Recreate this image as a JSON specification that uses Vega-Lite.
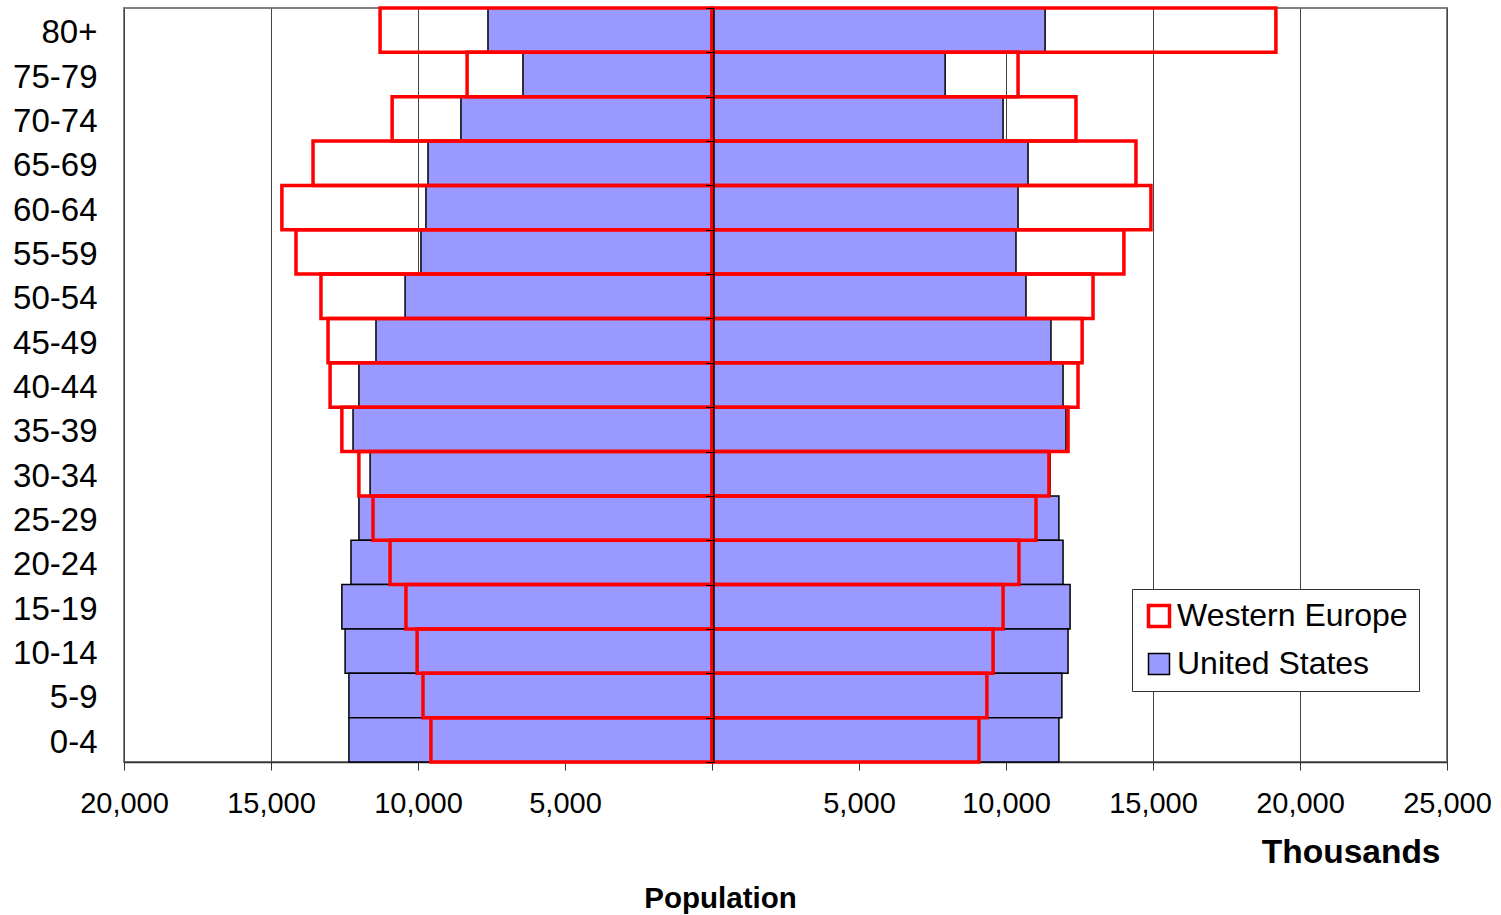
{
  "$schema": "https://vega.github.io/schema/vega-lite/v6.json",
  "autosize": "none",
  "width": 1323,
  "height": 754,
  "padding": {"left": 124, "top": 8, "right": 54, "bottom": 153},
  "background": "white",
  "config": {
    "view": {"stroke": "#808080", "strokeWidth": 2},
    "font": "Liberation Sans"
  },
  "title": {
    "text": "Population",
    "orient": "bottom",
    "anchor": "middle",
    "font": "Liberation Sans",
    "fontSize": 29.5,
    "fontWeight": "bold",
    "color": "#000",
    "dx": -65,
    "offset": 16
  },
  "data": {
    "values": [
      {"age": "80+", "region": "United States", "value": -7620},
      {"age": "80+", "region": "United States", "value": 11330},
      {"age": "75-79", "region": "United States", "value": -6430},
      {"age": "75-79", "region": "United States", "value": 7930},
      {"age": "70-74", "region": "United States", "value": -8540},
      {"age": "70-74", "region": "United States", "value": 9900},
      {"age": "65-69", "region": "United States", "value": -9660},
      {"age": "65-69", "region": "United States", "value": 10750},
      {"age": "60-64", "region": "United States", "value": -9730},
      {"age": "60-64", "region": "United States", "value": 10410},
      {"age": "55-59", "region": "United States", "value": -9900},
      {"age": "55-59", "region": "United States", "value": 10340},
      {"age": "50-54", "region": "United States", "value": -10440},
      {"age": "50-54", "region": "United States", "value": 10680},
      {"age": "45-49", "region": "United States", "value": -11430},
      {"age": "45-49", "region": "United States", "value": 11530},
      {"age": "40-44", "region": "United States", "value": -12010},
      {"age": "40-44", "region": "United States", "value": 11940},
      {"age": "35-39", "region": "United States", "value": -12210},
      {"age": "35-39", "region": "United States", "value": 12040},
      {"age": "30-34", "region": "United States", "value": -11630},
      {"age": "30-34", "region": "United States", "value": 11500},
      {"age": "25-29", "region": "United States", "value": -12010},
      {"age": "25-29", "region": "United States", "value": 11800},
      {"age": "20-24", "region": "United States", "value": -12280},
      {"age": "20-24", "region": "United States", "value": 11940},
      {"age": "15-19", "region": "United States", "value": -12590},
      {"age": "15-19", "region": "United States", "value": 12180},
      {"age": "10-14", "region": "United States", "value": -12480},
      {"age": "10-14", "region": "United States", "value": 12110},
      {"age": "5-9", "region": "United States", "value": -12350},
      {"age": "5-9", "region": "United States", "value": 11900},
      {"age": "0-4", "region": "United States", "value": -12350},
      {"age": "0-4", "region": "United States", "value": 11800},
      {"age": "80+", "region": "Western Europe", "value": -11290},
      {"age": "80+", "region": "Western Europe", "value": 19180},
      {"age": "75-79", "region": "Western Europe", "value": -8330},
      {"age": "75-79", "region": "Western Europe", "value": 10410},
      {"age": "70-74", "region": "Western Europe", "value": -10880},
      {"age": "70-74", "region": "Western Europe", "value": 12380},
      {"age": "65-69", "region": "Western Europe", "value": -13570},
      {"age": "65-69", "region": "Western Europe", "value": 14420},
      {"age": "60-64", "region": "Western Europe", "value": -14630},
      {"age": "60-64", "region": "Western Europe", "value": 14930},
      {"age": "55-59", "region": "Western Europe", "value": -14150},
      {"age": "55-59", "region": "Western Europe", "value": 14010},
      {"age": "50-54", "region": "Western Europe", "value": -13300},
      {"age": "50-54", "region": "Western Europe", "value": 12960},
      {"age": "45-49", "region": "Western Europe", "value": -13060},
      {"age": "45-49", "region": "Western Europe", "value": 12590},
      {"age": "40-44", "region": "Western Europe", "value": -12990},
      {"age": "40-44", "region": "Western Europe", "value": 12450},
      {"age": "35-39", "region": "Western Europe", "value": -12590},
      {"age": "35-39", "region": "Western Europe", "value": 12110},
      {"age": "30-34", "region": "Western Europe", "value": -12010},
      {"age": "30-34", "region": "Western Europe", "value": 11460},
      {"age": "25-29", "region": "Western Europe", "value": -11530},
      {"age": "25-29", "region": "Western Europe", "value": 11020},
      {"age": "20-24", "region": "Western Europe", "value": -10950},
      {"age": "20-24", "region": "Western Europe", "value": 10440},
      {"age": "15-19", "region": "Western Europe", "value": -10410},
      {"age": "15-19", "region": "Western Europe", "value": 9900},
      {"age": "10-14", "region": "Western Europe", "value": -10030},
      {"age": "10-14", "region": "Western Europe", "value": 9560},
      {"age": "5-9", "region": "Western Europe", "value": -9830},
      {"age": "5-9", "region": "Western Europe", "value": 9350},
      {"age": "0-4", "region": "Western Europe", "value": -9560},
      {"age": "0-4", "region": "Western Europe", "value": 9080}
    ]
  },
  "layer": [
    {
      "mark": {"type": "bar"},
      "encoding": {
        "y": {
          "field": "age",
          "type": "nominal",
          "sort": ["80+", "75-79", "70-74", "65-69", "60-64", "55-59", "50-54", "45-49", "40-44", "35-39", "30-34", "25-29", "20-24", "15-19", "10-14", "5-9", "0-4"],
          "scale": {"paddingInner": 0, "paddingOuter": 0},
          "axis": {
            "title": null,
            "domain": false,
            "ticks": false,
            "labelPadding": 27,
            "labelOffset": 3,
            "labelFont": "Liberation Sans",
            "labelFontSize": 33,
            "labelColor": "#000"
          }
        },
        "x": {
          "field": "value",
          "type": "quantitative",
          "stack": null,
          "scale": {"domain": [-20000, 25000], "nice": false, "zero": false},
          "axis": {
            "values": [-20000, -15000, -10000, -5000, 0, 5000, 10000, 15000, 20000, 25000],
            "labelExpr": "datum.value == 0 ? '' : format(abs(datum.value), ',')",
            "grid": true,
            "gridColor": "#444",
            "gridWidth": 1,
            "domainColor": "#333",
            "domainWidth": 1.5,
            "ticks": true,
            "tickColor": "#333",
            "tickSize": 8,
            "tickWidth": 1,
            "labelPadding": 19,
            "labelFont": "Liberation Sans",
            "labelFontSize": 29,
            "labelColor": "#000",
            "labelFlush": false,
            "title": "Thousands",
            "titleFont": "Liberation Sans",
            "titleFontSize": 33.5,
            "titleFontWeight": "bold",
            "titleColor": "#000",
            "titleAnchor": "end",
            "titleAlign": "right",
            "titleBaseline": "middle",
            "titleX": 1316,
            "titleY": 90
          }
        },
        "fill": {
          "field": "region",
          "type": "nominal",
          "scale": {"domain": ["Western Europe", "United States"], "range": ["transparent", "#9999FF"]},
          "legend": {
            "title": null,
            "orient": "none",
            "legendX": 1008,
            "legendY": 581,
            "fillColor": "white",
            "strokeColor": "#333",
            "padding": 11,
            "symbolType": "square",
            "symbolSize": 441,
            "labelFont": "Liberation Sans",
            "labelFontSize": 32,
            "labelColor": "#000",
            "labelOffset": 2,
            "labelLimit": 400,
            "rowPadding": 14
          }
        },
        "stroke": {
          "field": "region",
          "type": "nominal",
          "scale": {"domain": ["Western Europe", "United States"], "range": ["#FF0000", "#000000"]}
        },
        "strokeWidth": {
          "field": "region",
          "type": "nominal",
          "scale": {"domain": ["Western Europe", "United States"], "range": [3.5, 1.5]}
        }
      }
    },
    {
      "mark": {"type": "point", "opacity": 0},
      "encoding": {
        "y": {
          "field": "age",
          "type": "nominal",
          "sort": ["80+", "75-79", "70-74", "65-69", "60-64", "55-59", "50-54", "45-49", "40-44", "35-39", "30-34", "25-29", "20-24", "15-19", "10-14", "5-9", "0-4"],
          "axis": {
            "title": null,
            "orient": "left",
            "offset": -589.5,
            "zindex": 1,
            "labels": false,
            "grid": false,
            "domain": true,
            "domainColor": "#000",
            "domainWidth": 1.5,
            "ticks": true,
            "tickBand": "extent",
            "tickColor": "#000",
            "tickSize": 8,
            "tickWidth": 1
          }
        },
        "x": {"datum": 0, "type": "quantitative"}
      }
    }
  ],
  "resolve": {"axis": {"y": "independent"}}
}
